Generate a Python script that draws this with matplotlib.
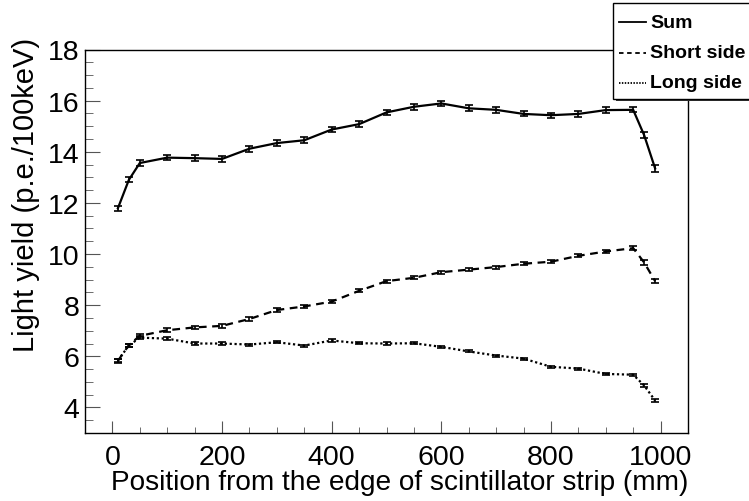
import matplotlib
matplotlib.use("Agg")
import matplotlib.pyplot as plt
from matplotlib.patches import Rectangle
from matplotlib.lines import Line2D

plt.rcParams["font.family"] = ["Liberation Sans", "DejaVu Sans"]

# positions along the strip (mm)
position = [10, 30, 50, 100, 150, 200, 250, 300, 350, 400, 450, 500, 550,
            600, 650, 700, 750, 800, 850, 900, 950, 970, 990]

sum_ly = [11.79, 12.90, 13.56, 13.77, 13.75, 13.72, 14.12, 14.34, 14.45, 14.87,
          15.08, 15.54, 15.76, 15.89, 15.70, 15.64, 15.48, 15.43, 15.48, 15.63,
          15.64, 14.65, 13.35]
sum_err = [0.10, 0.10, 0.11, 0.11, 0.11, 0.12, 0.11, 0.11, 0.11, 0.11, 0.11,
           0.10, 0.11, 0.11, 0.11, 0.11, 0.10, 0.10, 0.11, 0.11, 0.10, 0.12, 0.13]

short_ly = [5.82, 6.44, 6.80, 7.02, 7.13, 7.19, 7.46, 7.81, 7.95, 8.14, 8.56,
            8.94, 9.07, 9.29, 9.39, 9.49, 9.62, 9.70, 9.93, 10.10, 10.23, 9.67, 8.94]
short_err = [0.07, 0.06, 0.06, 0.07, 0.06, 0.07, 0.06, 0.06, 0.06, 0.07, 0.06,
             0.06, 0.06, 0.06, 0.06, 0.06, 0.06, 0.06, 0.06, 0.07, 0.07, 0.08, 0.08]

long_ly = [5.84, 6.42, 6.73, 6.69, 6.50, 6.50, 6.46, 6.55, 6.42, 6.62, 6.51,
           6.50, 6.51, 6.37, 6.19, 6.03, 5.91, 5.59, 5.52, 5.31, 5.28, 4.86, 4.27]
long_err = [0.05, 0.05, 0.05, 0.05, 0.04, 0.04, 0.04, 0.04, 0.04, 0.05, 0.04,
            0.04, 0.04, 0.04, 0.04, 0.04, 0.04, 0.04, 0.04, 0.04, 0.04, 0.05, 0.05]

fig = plt.figure(figsize=(7.49, 5.02), dpi=100)
ax = fig.add_axes([85 / 749, 1 - 434 / 502, 603 / 749, 383.5 / 502])

series = [
    (sum_ly, sum_err, "-", "Sum"),
    (short_ly, short_err, (0, (3.5, 2.5)), "Short side"),
    (long_ly, long_err, (0, (1, 1.2)), "Long side"),
]
for vals, errs, ls, lab in series:
    ax.plot(position, vals, color="black", lw=1.6, ls=ls)
    ax.errorbar(position, vals, yerr=errs, fmt="none", ecolor="black",
                elinewidth=1.2, capsize=3, capthick=1.2)

ax.set_xlim(-50, 1050)
ax.set_ylim(3, 18)
ax.set_xticks([0, 200, 400, 600, 800, 1000])
ax.set_xticks(range(-50, 1051, 50), minor=True)
ax.set_yticks([4, 6, 8, 10, 12, 14, 16, 18])
ax.set_yticks([3 + 0.5 * i for i in range(31)], minor=True)
ax.tick_params(axis="both", which="both", direction="in", color="#555555",
               labelsize=20.5, top=False, right=False)
ax.tick_params(axis="y", which="major", length=11, pad=4)
ax.tick_params(axis="y", which="minor", length=5.5)
ax.tick_params(axis="x", which="major", length=9, pad=8)
ax.tick_params(axis="x", which="minor", length=4.5)
for s in ax.spines.values():
    s.set_linewidth(1.0)

# axis titles, ROOT style: aligned to the far end of each axis
fig.text(688 / 749, 1 - 490 / 502,
         "Position from the edge of scintillator strip (mm)",
         fontsize=20.2, ha="right", va="baseline")
fig.text(26 / 749, 1 - 38 / 502, "Light yield (p.e./100keV)",
         fontsize=21, rotation=90, ha="center", va="top")

# ROOT-style legend box with shadow, top right
lx0, ly0, lx1, ly1 = 613 / 749, 1 - 100 / 502, 1.02, 1 - 4 / 502
fig.add_artist(Rectangle((lx0 + 3 / 749, ly0 - 2 / 502), lx1 - lx0, ly1 - ly0,
                         transform=fig.transFigure, facecolor="#333333",
                         edgecolor="none", zorder=5))
fig.add_artist(Rectangle((lx0, ly0), lx1 - lx0, ly1 - ly0,
                         transform=fig.transFigure, facecolor="white",
                         edgecolor="black", lw=1.0, zorder=6))
rows_y = [23, 54, 84]
legend_ls = ["-", (0, (2.5, 2)), (0, (0.8, 0.8))]
for (vals, errs, ls, lab), ry, lls in zip(series, rows_y, legend_ls):
    yy = 1 - ry / 502
    fig.add_artist(Line2D([619 / 749, 646 / 749], [yy, yy], color="black",
                          lw=1.3, ls=lls, transform=fig.transFigure, zorder=7))
    fig.text(650 / 749, yy, lab, fontsize=14, fontweight="bold",
             va="center", ha="left", zorder=7)

fig.savefig("out.png", dpi=100)
